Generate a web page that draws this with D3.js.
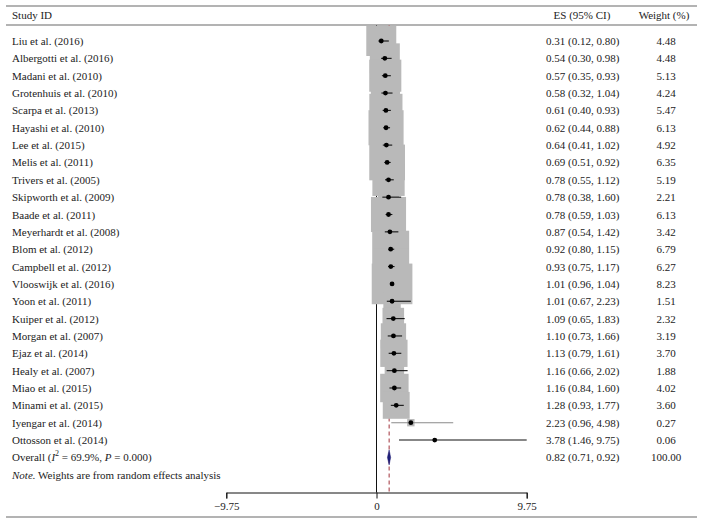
<!DOCTYPE html>
<html>
<head>
<meta charset="utf-8">
<script src="https://cdn.jsdelivr.net/npm/d3@7"></script>
<style>
  html, body { margin: 0; padding: 0; background: #fff; }
  svg text { font-family: "Liberation Serif", "Times New Roman", serif; fill: #222; }
</style>
</head>
<body>
<svg id="chart" width="702" height="525"></svg>
<script>
const studies = ["Liu et al. (2016)", "Albergotti et al. (2016)", "Madani et al. (2010)", "Grotenhuis et al. (2010)",
  "Scarpa et al. (2013)", "Hayashi et al. (2010)", "Lee et al. (2015)", "Melis et al. (2011)", "Trivers et al. (2005)",
  "Skipworth et al. (2009)", "Baade et al. (2011)", "Meyerhardt et al. (2008)", "Blom et al. (2012)",
  "Campbell et al. (2012)", "Vlooswijk et al. (2016)", "Yoon et al. (2011)", "Kuiper et al. (2012)",
  "Morgan et al. (2007)", "Ejaz et al. (2014)", "Healy et al. (2007)", "Miao et al. (2015)", "Minami et al. (2015)",
  "Iyengar et al. (2014)", "Ottosson et al. (2014)"];
const es = [0.31, 0.54, 0.57, 0.58, 0.61, 0.62, 0.64, 0.69, 0.78, 0.78, 0.78, 0.87, 0.92, 0.93, 1.01, 1.01, 1.09, 1.10, 1.13, 1.16, 1.16, 1.28, 2.23, 3.78];
const lower = [0.12, 0.30, 0.35, 0.32, 0.40, 0.44, 0.41, 0.51, 0.55, 0.38, 0.59, 0.54, 0.80, 0.75, 0.96, 0.67, 0.65, 0.73, 0.79, 0.66, 0.84, 0.93, 0.96, 1.46];
const upper = [0.80, 0.98, 0.93, 1.04, 0.93, 0.88, 1.02, 0.92, 1.12, 1.60, 1.03, 1.42, 1.15, 1.17, 1.04, 2.23, 1.83, 1.66, 1.61, 2.02, 1.60, 1.77, 4.98, 9.75];
const weights = [4.48, 4.48, 5.13, 4.24, 5.47, 6.13, 4.92, 6.35, 5.19, 2.21, 6.13, 3.42, 6.79, 6.27, 8.23, 1.51, 2.32, 3.19, 3.70, 1.88, 4.02, 3.60, 0.27, 0.06];
const overall = { es: 0.82, lo: 0.71, hi: 0.92, weight: 100.00, i2: "69.9%", p: "0.000" };
const tickValues = [-9.75, 0, 9.75];
const headers = ["Study ID", "ES (95% CI)", "Weight (%)"];
const noteText = "Weights are from random effects analysis";

const svg = d3.select("#chart");
const fmt2 = d3.format(".2f");

const x = d3.scaleLinear().domain([-9.75, 9.75]).range([226.3, 526.7]);
const nRows = studies.length + 2; // studies + overall + note
const y = d3.scaleLinear().domain([0, nRows - 1]).range([41, 41 + (nRows - 1) * 17.35]);
const boxSide = d3.scaleSqrt().domain([0, 4.48]).range([0, 30]);

const axisY = 492.5, plotTop = 25.5;
const fs = 11;

// horizontal rules
[6, 25, 517].forEach(yy => {
  svg.append("line").attr("x1", 6).attr("x2", 697).attr("y1", yy).attr("y2", yy)
    .attr("stroke", "#9a9a9a").attr("stroke-width", 1.3);
});

// headers
svg.append("text").attr("x", 12).attr("y", 19).attr("font-size", fs).text(headers[0]);
svg.append("text").attr("x", 582).attr("y", 19).attr("font-size", fs).attr("text-anchor", "middle").text(headers[1]);
svg.append("text").attr("x", 664).attr("y", 19).attr("font-size", fs).attr("text-anchor", "middle").text(headers[2]);

// reference lines
svg.append("line").attr("x1", x(0)).attr("x2", x(0)).attr("y1", plotTop).attr("y2", axisY)
  .attr("stroke", "#111").attr("stroke-width", 1);
svg.append("line").attr("x1", x(overall.es)).attr("x2", x(overall.es)).attr("y1", plotTop).attr("y2", axisY)
  .attr("stroke", "#a0303a").attr("stroke-width", 1).attr("stroke-dasharray", "4,3");

const rows = studies.map((s, i) => ({ name: s, es: es[i], lo: lower[i], hi: upper[i], w: weights[i], i }));

// boxes
svg.append("g").selectAll("rect").data(rows).join("rect")
  .attr("x", d => x(d.es) - boxSide(d.w) / 2)
  .attr("y", d => y(d.i) - boxSide(d.w) / 2)
  .attr("width", d => boxSide(d.w))
  .attr("height", d => boxSide(d.w))
  .attr("fill", "#b9b9b9");

// CI lines
svg.append("g").selectAll("line").data(rows).join("line")
  .attr("x1", d => x(d.lo)).attr("x2", d => x(d.hi))
  .attr("y1", d => y(d.i)).attr("y2", d => y(d.i))
  .attr("stroke", d => d.w < 1 && d.w > 0.1 ? "#8a8a8a" : "#111").attr("stroke-width", 1.1);

// points
svg.append("g").selectAll("circle").data(rows).join("circle")
  .attr("cx", d => x(d.es)).attr("cy", d => y(d.i)).attr("r", 2.4).attr("fill", "#000");

// labels
const labG = svg.append("g").attr("font-size", fs);
labG.selectAll("text.name").data(rows).join("text").attr("class", "name")
  .attr("x", 12).attr("y", d => y(d.i) + 4).text(d => d.name);
labG.selectAll("text.es").data(rows).join("text").attr("class", "es")
  .attr("x", 546).attr("y", d => y(d.i) + 4)
  .text(d => `${fmt2(d.es)} (${fmt2(d.lo)}, ${fmt2(d.hi)})`);
labG.selectAll("text.w").data(rows).join("text").attr("class", "w")
  .attr("x", 666).attr("y", d => y(d.i) + 4).attr("text-anchor", "middle")
  .text(d => fmt2(d.w));

// overall row
const oi = studies.length;
const oy = y(oi);
svg.append("path")
  .attr("d", d3.line()([[x(overall.lo), oy], [x(overall.es), oy - 7.5], [x(overall.hi), oy], [x(overall.es), oy + 7.5]]) + "Z")
  .attr("fill", "#1f1f78").attr("stroke", "#1f1f78").attr("stroke-width", 0.5);

const ot = svg.append("text").attr("x", 12).attr("y", oy + 4).attr("font-size", fs);
ot.append("tspan").text("Overall (");
ot.append("tspan").attr("font-style", "italic").text("I");
ot.append("tspan").attr("font-size", 8).attr("dy", -5).text("2");
ot.append("tspan").attr("dy", 5).text(` = ${overall.i2}, `);
ot.append("tspan").attr("font-style", "italic").text("P");
ot.append("tspan").text(` = ${overall.p})`);

svg.append("text").attr("x", 546).attr("y", oy + 4).attr("font-size", fs)
  .text(`${fmt2(overall.es)} (${fmt2(overall.lo)}, ${fmt2(overall.hi)})`);
svg.append("text").attr("x", 666).attr("y", oy + 4).attr("font-size", fs).attr("text-anchor", "middle")
  .text(fmt2(overall.weight));

// note
const nt = svg.append("text").attr("x", 12).attr("y", y(oi + 1) + 4).attr("font-size", fs);
nt.append("tspan").attr("font-style", "italic").text("Note.");
nt.append("tspan").text(" " + noteText);

// axis
const axis = d3.axisBottom(x).tickValues(tickValues).tickSizeOuter(0).tickSize(6).tickPadding(4)
  .tickFormat(d => d < 0 ? "\u2212" + fmt2(-d) : (d === 0 ? "0" : fmt2(d)));
const ag = svg.append("g").attr("transform", `translate(0,${axisY})`).call(axis);
ag.select(".domain").attr("stroke", "#111");
ag.selectAll(".tick line").attr("stroke", "#111");
ag.selectAll(".tick text").attr("font-family", "Liberation Serif, serif").attr("font-size", fs).attr("fill", "#222");
</script>
</body>
</html>
